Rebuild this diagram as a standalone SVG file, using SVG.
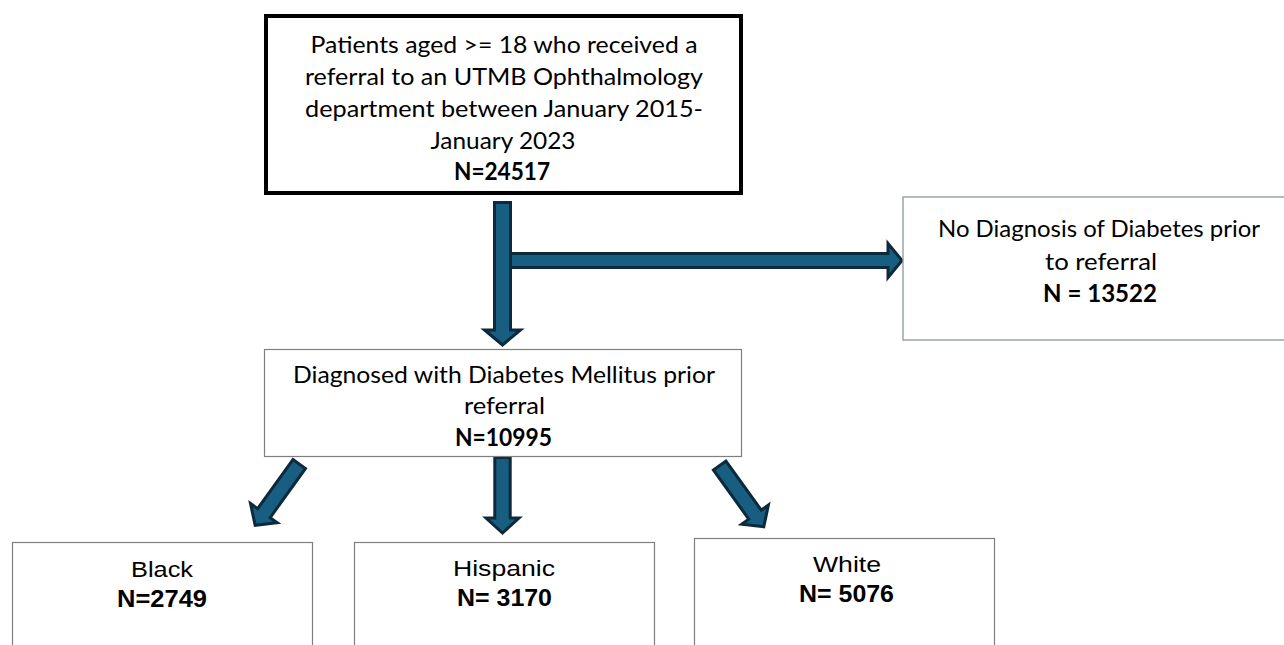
<svg xmlns="http://www.w3.org/2000/svg" width="1284" height="645" viewBox="0 0 1284 645">
<style>
.c{font-family:Lato,"Open Sans","Liberation Sans",sans-serif;font-size:24px;fill:#000;text-anchor:middle}
.b{font-weight:bold}
.s{font-family:"Liberation Sans",Arial,sans-serif;font-size:22px;fill:#000;text-anchor:middle}
.sb{font-family:"Liberation Sans",Arial,sans-serif;font-size:23px;font-weight:bold;fill:#000;text-anchor:middle}
.box{fill:#fff;stroke:#7f7f7f;stroke-width:1.2}
.arr{fill:#185e80;stroke:#0c2a3b;stroke-width:3;stroke-linejoin:miter}
</style>
<rect width="1284" height="645" fill="#fff"/>
<g id="connectors">
  <path class="arr" d="M509,253.5 H888 V243.5 L902,260.5 L888,277.5 V267.5 H509 Z"/>
  <path class="arr" d="M494.5,202.5 H510.5 V330 H520.5 L502.5,345 L484.5,330 H494.5 Z"/>
  <g transform="translate(502.5,457.5)"><path class="arr" d="M-7.7,0 H7.7 V60.5 H16.5 L0,75.5 L-16.5,60.5 H-7.7 Z"/></g>
  <g transform="translate(299.2,464) rotate(35.7)"><path class="arr" d="M-7.7,0 H7.7 V60.5 H16.5 L0,75.5 L-16.5,60.5 H-7.7 Z"/></g>
  <g transform="translate(719.7,465.5) rotate(-35.7)"><path class="arr" d="M-7.7,0 H7.7 V60.5 H16.5 L0,75.5 L-16.5,60.5 H-7.7 Z"/></g>
</g>
<g id="node-patients">
  <rect x="266" y="16" width="475" height="177" fill="#fff" stroke="#000" stroke-width="4"/>
  <text class="c" x="504" y="53" textLength="387" lengthAdjust="spacingAndGlyphs">Patients aged &gt;= 18 who received a</text>
  <text class="c" x="504" y="85" textLength="398" lengthAdjust="spacingAndGlyphs">referral to an UTMB Ophthalmology</text>
  <text class="c" x="504" y="117" textLength="398" lengthAdjust="spacingAndGlyphs">department between January 2015-</text>
  <text class="c" x="503" y="149" textLength="145" lengthAdjust="spacingAndGlyphs">January 2023</text>
  <text class="c b" x="502" y="180" textLength="96" lengthAdjust="spacingAndGlyphs">N=24517</text>
</g>
<g id="node-nodiabetes">
  <rect x="903" y="197" width="390" height="143" fill="#fff" stroke="#8c979c" stroke-width="1.3"/>
  <text class="c" x="1099" y="237" textLength="322" lengthAdjust="spacingAndGlyphs">No Diagnosis of Diabetes prior</text>
  <text class="c" x="1101" y="270" textLength="112" lengthAdjust="spacingAndGlyphs">to referral</text>
  <text class="c b" x="1100" y="302" textLength="114" lengthAdjust="spacingAndGlyphs">N = 13522</text>
</g>
<g id="node-diabetes">
  <rect class="box" x="264.5" y="349.5" width="477" height="107" stroke="#6f6f6f"/>
  <text class="c" x="504" y="383" textLength="422" lengthAdjust="spacingAndGlyphs">Diagnosed with Diabetes Mellitus prior</text>
  <text class="c" x="504.5" y="414" textLength="81" lengthAdjust="spacingAndGlyphs">referral</text>
  <text class="c b" x="503.5" y="446" textLength="97" lengthAdjust="spacingAndGlyphs">N=10995</text>
</g>
<g id="node-black">
  <rect class="box" x="12.5" y="542.5" width="300" height="120"/>
  <text class="s" x="162" y="577" textLength="62" lengthAdjust="spacingAndGlyphs">Black</text>
  <text class="sb" x="162" y="607" textLength="90" lengthAdjust="spacingAndGlyphs">N=2749</text>
</g>
<g id="node-hispanic">
  <rect class="box" x="354.5" y="542.5" width="300" height="120"/>
  <text class="s" x="504" y="576" textLength="102" lengthAdjust="spacingAndGlyphs">Hispanic</text>
  <text class="sb" x="504.5" y="606" textLength="95" lengthAdjust="spacingAndGlyphs">N= 3170</text>
</g>
<g id="node-white">
  <rect class="box" x="694.5" y="538.5" width="300" height="120"/>
  <text class="s" x="847" y="572" textLength="68" lengthAdjust="spacingAndGlyphs">White</text>
  <text class="sb" x="846.5" y="602" textLength="95" lengthAdjust="spacingAndGlyphs">N= 5076</text>
</g>
</svg>
